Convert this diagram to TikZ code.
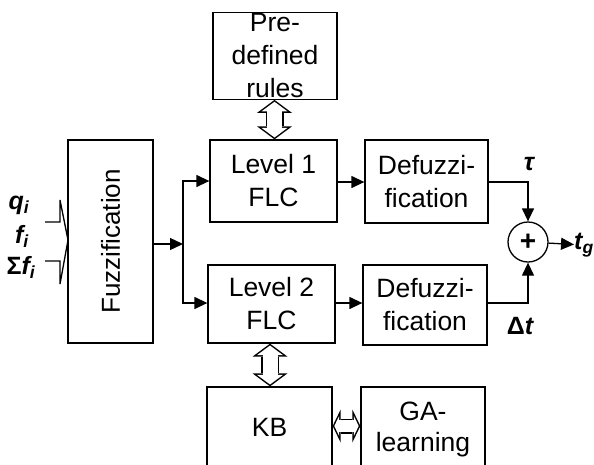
\documentclass[tikz,border=0pt]{standalone}
\usepackage{fontspec}
\setmainfont{Liberation Sans}
\usetikzlibrary{arrows.meta, positioning}
\tikzset{
  blk/.style={draw, line width=1.3pt, align=center, inner sep=1pt,
              font=\fontsize{26.5}{33}\selectfont},
  sig/.style={-{Triangle[length=13pt,width=12pt]}, line width=1.3pt},
  % hollow double-headed arrows (outer black, inner white)
  fatv/.style={line width=18pt,
    {Triangle[length=13pt,width=35pt,line width=0pt]}-{Triangle[length=13pt,width=35pt,line width=0pt]},
    postaction={draw=white, line width=15pt, shorten <=1.87pt, shorten >=1.87pt,
      {Triangle[length=9.6pt,width=25.9pt,line width=0pt]}-{Triangle[length=9.6pt,width=25.9pt,line width=0pt]}}},
  fath/.style={line width=15pt,
    {Triangle[length=8pt,width=33pt,line width=0pt]}-{Triangle[length=8pt,width=33pt,line width=0pt]},
    postaction={draw=white, line width=12pt, shorten <=1.67pt, shorten >=1.67pt,
      {Triangle[length=4.8pt,width=20pt,line width=0pt]}-{Triangle[length=4.8pt,width=20pt,line width=0pt]}}},
  lbl/.style={font=\fontsize{25}{28}\selectfont\bfseries\itshape, inner sep=0pt}
}
\begin{document}
\begin{tikzpicture}[x=1pt, y=-1pt]
  \useasboundingbox (0,0) rectangle (594,464);

  % blocks
  \node[blk, minimum width=85, minimum height=203] (fuzz) at (110.5,241.5) {};
  \node[font=\fontsize{26}{28}\selectfont, rotate=90] (fuzztxt) at (fuzz.center) {Fuzzification};
  \node[blk, minimum width=124, minimum height=82] (rules) at (275,56) {Pre-\\defined\\rules};
  \node[blk, minimum width=127, minimum height=82] (lvl1) at (273.5,181) {Level 1\\FLC};
  \node[blk, minimum width=127, minimum height=78] (lvl2) at (271.5,304) {Level 2\\FLC};
  \node[blk, minimum width=123, minimum height=83] (defz1) at (426.5,181.5) {Defuzzi-\\fication};
  \node[blk, minimum width=124, minimum height=80] (defz2) at (425,305) {Defuzzi-\\fication};
  \node[blk, minimum width=125, minimum height=90] (kb) at (269.5,432) {};
  \node[font=\fontsize{26.5}{30}\selectfont] (kbtxt) at (269.5,427) {KB};
  \node[blk, minimum width=124, minimum height=90] (ga) at (423,432) {};
  \node[font=\fontsize{26.5}{31}\selectfont, align=center] (gatxt) at (423,429) {GA-\\learning};
  \node[draw, circle, line width=1.3pt, minimum size=40, inner sep=0pt,
        font=\fontsize{28}{30}\selectfont\bfseries] (sum) at (528,242) {+};

  % inputs
  \node[lbl] (q) at (19,205) {q\textsubscript{i}};
  \node[lbl] (f) at (22,236) {f\textsubscript{i}};
  \node[lbl] (sf) at (21,267) {\upshape Σ\itshape f\textsubscript{i}};
  \coordinate (in1) at (45,222);
  \coordinate (in2) at (45,261);
  \coordinate (mrg) at (68,240);
  \draw[line width=1.3pt] (in1) -- (60,222) -- (60,200) -- (mrg);
  \draw[line width=1.3pt] (in2) -- (60,261) -- (60,284) -- (mrg);

  % signal flow
  \coordinate (j) at (183,244);
  \draw[sig] (fuzz.east |- j) -- (j);
  \draw[sig] (j) |- (lvl1.west |- 0,181);
  \draw[sig] (j) |- (lvl2.west |- 0,303);
  \draw[sig] (lvl1.east |- 0,182) -- (defz1.west |- 0,182);
  \draw[sig] (lvl2.east |- 0,303) -- (defz2.west |- 0,303);
  \draw[sig] (defz1.east |- 0,182) -| (sum.north);
  \draw[sig] (defz2.east |- 0,303) -| (sum.south);
  \node[lbl] (tau) at (529,164) {τ};
  \node[lbl] (dt) at (520,326) {\upshape Δ\itshape t};
  \node[lbl, anchor=west] (tg) at (574,245) {t\textsubscript{g}};
  \draw[sig] (sum) -- (tg);

  % rule base links
  \draw[fatv] (rules.south -| 274.5,0) -- (lvl1.north -| 274.5,0);
  \draw[fatv] (lvl2.south -| 270,0) -- (kb.north -| 270,0);
  \draw[fath] (kb.east |- 0,426) -- (ga.west |- 0,426);
\end{tikzpicture}
\end{document}
